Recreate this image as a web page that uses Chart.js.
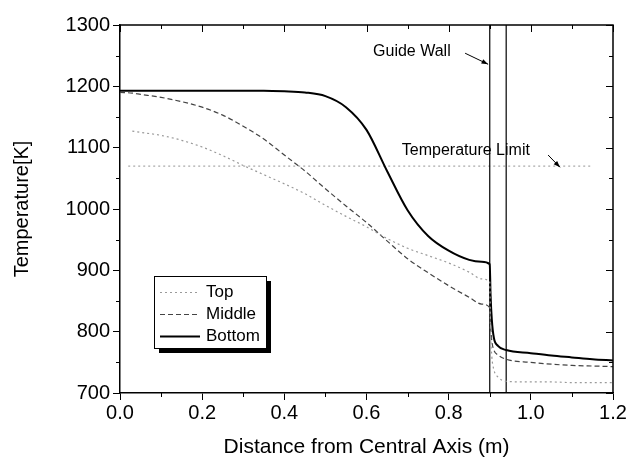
<!DOCTYPE html>
<html>
<head>
<meta charset="utf-8">
<script src="https://cdn.jsdelivr.net/npm/chart.js@4.4.1/dist/chart.umd.min.js"></script>
<style>
    html, body { margin: 0; padding: 0; background: #fff; }
    #wrap { width: 632px; height: 468px; position: relative; }
</style>
</head>
<body>
<div id="wrap"><canvas id="chart"></canvas></div>
<script>
// distance from central axis (m), shared by all three curves
const distance = [0, 0.03, 0.05, 0.1, 0.15, 0.2, 0.25, 0.3, 0.35, 0.4, 0.45, 0.5, 0.55, 0.6, 0.65, 0.7,
    0.75, 0.8, 0.85, 0.88, 0.9, 0.902, 0.905, 0.91, 0.92, 0.94, 1.0, 1.05, 1.1, 1.15, 1.2];

// temperature [K]
const topTemp = [null, 1127, 1125, 1120, 1112, 1101, 1087, 1071, 1056, 1041, 1025, 1006, 988, 971, 952, 936,
    924, 912, 897, 886, 881, 800, 760, 738, 726, 719, 718, 718, 717, 717, 717];
const middleTemp = [1190, 1189, 1187, 1182, 1175, 1166, 1153, 1135, 1114, 1088, 1062, 1033, 1005, 978, 948, 919,
    896, 875, 856, 845, 839, 810, 785, 770, 762, 755, 750, 747, 745, 744, 743];
const bottomTemp = [1193, 1193, 1193, 1193, 1193, 1193, 1193, 1193, 1193, 1192, 1190, 1184, 1166, 1129, 1062, 998,
    956, 932, 917, 914, 910, 860, 820, 790, 777, 770, 765, 761, 758, 755, 753];

const seriesLabels = ['Top', 'Middle', 'Bottom'];

// guide wall faces and temperature limit
const guideWallX = [0.90, 0.94];
const tempLimit = 1070;
const limitRange = [0.02, 1.15];

const xTicks = [0.0, 0.2, 0.4, 0.6, 0.8, 1.0, 1.2];
const yTicks = [700, 800, 900, 1000, 1100, 1200, 1300];

const FONT = "'Liberation Sans', Arial, sans-serif";

function toPoints(xs, ys) {
    return xs.map((x, i) => ({ x: x, y: ys[i] }));
}

const styles = [
    { color: '#9a9a9a', width: 1.2, dash: [2, 3] },
    { color: '#444444', width: 1.2, dash: [5, 3] },
    { color: '#000000', width: 2, dash: [] }
];

const curveData = [topTemp, middleTemp, bottomTemp];

const datasets = curveData.map((vals, i) => ({
    label: seriesLabels[i],
    data: toPoints(distance, vals),
    borderColor: styles[i].color,
    borderWidth: styles[i].width,
    borderDash: styles[i].dash,
    pointRadius: 0,
    fill: false,
    cubicInterpolationMode: 'monotone'
}));

guideWallX.forEach(x => {
    datasets.push({
        label: 'wall',
        data: [{ x: x, y: yTicks[0] }, { x: x, y: yTicks[yTicks.length - 1] }],
        borderColor: '#000',
        borderWidth: 1.2,
        pointRadius: 0,
        fill: false
    });
});

datasets.push({
    label: 'limit',
    data: [{ x: limitRange[0], y: tempLimit }, { x: limitRange[1], y: tempLimit }],
    borderColor: '#aaaaaa',
    borderWidth: 1.2,
    borderDash: [2, 3],
    pointRadius: 0,
    fill: false
});

function arrow(ctx, x1, y1, x2, y2) {
    const a = Math.atan2(y2 - y1, x2 - x1);
    ctx.beginPath();
    ctx.moveTo(x1, y1);
    ctx.lineTo(x2, y2);
    ctx.stroke();
    ctx.beginPath();
    ctx.moveTo(x2, y2);
    ctx.lineTo(x2 - 7 * Math.cos(a - 0.35), y2 - 7 * Math.sin(a - 0.35));
    ctx.lineTo(x2 - 7 * Math.cos(a + 0.35), y2 - 7 * Math.sin(a + 0.35));
    ctx.closePath();
    ctx.fill();
}

// frame, minor ticks, notes and the boxed legend
const originStyle = {
    id: 'originStyle',
    afterDraw(chart) {
        const ctx = chart.ctx;
        const area = chart.chartArea;
        const xs = chart.scales.x;
        const ys = chart.scales.y;
        ctx.save();
        ctx.strokeStyle = '#000';
        ctx.fillStyle = '#000';
        ctx.lineWidth = 1.5;
        ctx.beginPath();
        ctx.moveTo(area.left, area.top);
        ctx.lineTo(area.right, area.top);
        ctx.lineTo(area.right, area.bottom);
        ctx.stroke();

        ctx.lineWidth = 1;
        ctx.beginPath();
        for (let v = 0; v <= 1.2001; v += 0.1) {
            const px = Math.round(xs.getPixelForValue(v)) + 0.5;
            const major = Math.round(v * 10) % 2 === 0;
            const len = major ? 7 : 4;
            ctx.moveTo(px, area.top);
            ctx.lineTo(px, area.top + len);
            if (!major) {
                ctx.moveTo(px, area.bottom);
                ctx.lineTo(px, area.bottom + len);
            }
        }
        for (let v = 700; v <= 1300; v += 50) {
            const py = Math.round(ys.getPixelForValue(v)) + 0.5;
            const major = v % 100 === 0;
            const len = major ? 7 : 4;
            ctx.moveTo(area.right, py);
            ctx.lineTo(area.right - len, py);
            if (!major) {
                ctx.moveTo(area.left, py);
                ctx.lineTo(area.left - len, py);
            }
        }
        ctx.stroke();

        // notes
        ctx.font = '16px ' + FONT;
        ctx.textBaseline = 'middle';
        ctx.textAlign = 'left';
        ctx.fillText('Guide Wall', xs.getPixelForValue(0.616), ys.getPixelForValue(1256));
        arrow(ctx, xs.getPixelForValue(0.84), ys.getPixelForValue(1254),
            xs.getPixelForValue(0.896), ys.getPixelForValue(1236));
        ctx.fillText('Temperature Limit', xs.getPixelForValue(0.686), ys.getPixelForValue(1096));
        arrow(ctx, xs.getPixelForValue(1.042), ys.getPixelForValue(1088),
            xs.getPixelForValue(1.071), ys.getPixelForValue(1068));

        // legend
        const lx = area.left + 34, ly = area.top + 251, lw = 112, lh = 72;
        ctx.fillRect(lx + 5, ly + 5, lw, lh);
        ctx.fillStyle = '#fff';
        ctx.fillRect(lx, ly, lw, lh);
        ctx.strokeStyle = '#000';
        ctx.lineWidth = 1;
        ctx.strokeRect(lx + 0.5, ly + 0.5, lw, lh);
        ctx.font = '17px ' + FONT;
        seriesLabels.forEach((lab, i) => {
            const y = ly + 16 + i * 22;
            ctx.strokeStyle = styles[i].color;
            ctx.lineWidth = styles[i].width;
            ctx.setLineDash(styles[i].dash);
            ctx.beginPath();
            ctx.moveTo(lx + 6, y + 0.5);
            ctx.lineTo(lx + 46, y + 0.5);
            ctx.stroke();
            ctx.setLineDash([]);
            ctx.fillStyle = '#000';
            ctx.fillText(lab, lx + 52, y);
        });
        ctx.restore();
    }
};

new Chart(document.getElementById('chart'), {
    type: 'line',
    data: { datasets: datasets },
    options: {
        responsive: true,
        maintainAspectRatio: false,
        animation: false,
        layout: { padding: { top: 25, right: 19, left: 0, bottom: 0 } },
        plugins: {
            legend: { display: false },
            tooltip: { enabled: false }
        },
        scales: {
            x: {
                type: 'linear',
                min: 0,
                max: 1.2,
                afterBuildTicks: (s) => { s.ticks = xTicks.map(v => ({ value: v })); },
                afterFit: (s) => { s.height = 75; },
                ticks: {
                    color: '#000',
                    font: { family: FONT, size: 20 },
                    padding: 1,
                    maxRotation: 0,
                    callback: (v) => Number(v).toFixed(1)
                },
                grid: { drawOnChartArea: false, color: '#000', tickLength: 7, lineWidth: 1 },
                border: { color: '#000', width: 1.5 },
                title: {
                    display: true,
                    text: 'Distance from Central Axis (m)',
                    color: '#000',
                    font: { family: FONT, size: 21 },
                    padding: { top: 0, bottom: 8 }
                }
            },
            y: {
                min: 700,
                max: 1300,
                afterBuildTicks: (s) => { s.ticks = yTicks.map(v => ({ value: v })); },
                afterFit: (s) => { s.width = 120; },
                ticks: {
                    color: '#000',
                    font: { family: FONT, size: 20 },
                    padding: 3,
                    callback: (v) => String(v)
                },
                grid: { drawOnChartArea: false, color: '#000', tickLength: 7, lineWidth: 1 },
                border: { color: '#000', width: 1.5 },
                title: {
                    display: true,
                    text: 'Temperature[K]',
                    color: '#000',
                    font: { family: FONT, size: 20 },
                    padding: { top: 10, bottom: 0 }
                }
            }
        }
    },
    plugins: [originStyle]
});
</script>
</body>
</html>
